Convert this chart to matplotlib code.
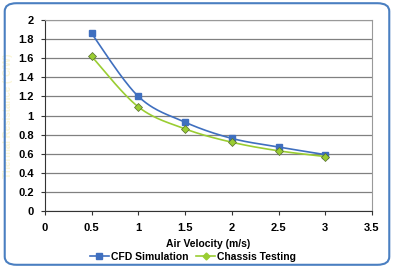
import numpy as np
import matplotlib
matplotlib.use('Agg')
import matplotlib.pyplot as plt
from matplotlib.patches import FancyBboxPatch
from matplotlib.lines import Line2D

plt.rcParams['font.family'] = ['Liberation Sans', 'DejaVu Sans']

velocity = [0.5, 1.0, 1.5, 2.0, 2.5, 3.0]
cfd = [1.86, 1.20, 0.93, 0.76, 0.67, 0.59]
chassis = [1.62, 1.09, 0.86, 0.72, 0.63, 0.57]
xticks = [0, 0.5, 1, 1.5, 2, 2.5, 3, 3.5]
yticks = [0, 0.2, 0.4, 0.6, 0.8, 1, 1.2, 1.4, 1.6, 1.8, 2]

blue = '#3F6FBF'
green = '#9ACD32'


def smooth(x, y, n=30):
    # Catmull-Rom style smoothing like Excel's "smoothed line"
    x = np.asarray(x, float)
    y = np.asarray(y, float)
    px = np.concatenate([[x[0]], x, [x[-1]]])
    py = np.concatenate([[y[0]], y, [y[-1]]])
    xs, ys = [], []
    t = np.linspace(0, 1, n)
    for i in range(1, len(px) - 2):
        p0, p1, p2, p3 = [np.array([px[j], py[j]]) for j in range(i - 1, i + 3)]
        c1 = p1 + (p2 - p0) / 6
        c2 = p2 - (p3 - p1) / 6
        b = ((1 - t) ** 3)[:, None] * p1 + (3 * (1 - t) ** 2 * t)[:, None] * c1 \
            + (3 * (1 - t) * t ** 2)[:, None] * c2 + (t ** 3)[:, None] * p2
        xs.extend(b[:, 0])
        ys.extend(b[:, 1])
    return xs, ys


fig = plt.figure(figsize=(3.94, 2.68), dpi=100)
fig.patches.append(FancyBboxPatch((0.012, 0.012), 0.976, 0.976,
                                  boxstyle='round,pad=0,rounding_size=0.03',
                                  transform=fig.transFigure, fill=False,
                                  edgecolor='#4A7FC1', linewidth=1.5))

ax = fig.add_axes([0.114, 0.213, 0.830, 0.712])
ax.set_xlim(0, 3.5)
ax.set_ylim(0, 2)
ax.set_xticks(xticks)
ax.set_xticklabels([f'{v:g}' for v in xticks])
ax.set_yticks(yticks)
ax.set_yticklabels([f'{v:g}' for v in yticks])
ax.grid(axis='y', color='#808080', linewidth=0.9)
ax.set_axisbelow(True)
for s in ['top', 'right']:
    ax.spines[s].set_color('#999999')
    ax.spines[s].set_linewidth(0.8)
for s in ['left', 'bottom']:
    ax.spines[s].set_color('#333333')
    ax.spines[s].set_linewidth(0.8)
ax.tick_params(labelsize=8, length=3, width=0.8, color='#333333', pad=6)
ax.tick_params(axis='y', pad=5)
for lab in ax.get_xticklabels() + ax.get_yticklabels():
    lab.set_fontweight('bold')

sx, sy = smooth(velocity, cfd)
ax.plot(sx, sy, color=blue, linewidth=1.2)
ax.plot(velocity, cfd, linestyle='none', marker='s', markersize=5,
        color=blue)
sx, sy = smooth(velocity, chassis)
ax.plot(sx, sy, color=green, linewidth=1.2)
ax.plot(velocity, chassis, linestyle='none', marker='D', markersize=4.5,
        color=green, markeredgecolor='#556B2F', markeredgewidth=0.5)

ax.set_xlabel('Air Velocity (m/s)', fontsize=7.5, fontweight='bold', labelpad=4)
ax.set_ylabel('Thermal Resistance (°C/W)', fontsize=7, fontweight='bold',
              color='#FAF6D8', labelpad=4)

handles = [Line2D([], [], color=blue, marker='s', markersize=4, linewidth=1.2),
           Line2D([], [], color=green, marker='D', markersize=3.5, linewidth=1.2)]
fig.legend(handles, ['CFD Simulation', 'Chassis Testing'], loc='center',
           bbox_to_anchor=(0.49, 0.041), ncol=2, frameon=False,
           prop={'size': 7.5, 'weight': 'bold'}, handlelength=1.8,
           columnspacing=0.8, handletextpad=0.2)

fig.savefig('out.png', dpi=100)
